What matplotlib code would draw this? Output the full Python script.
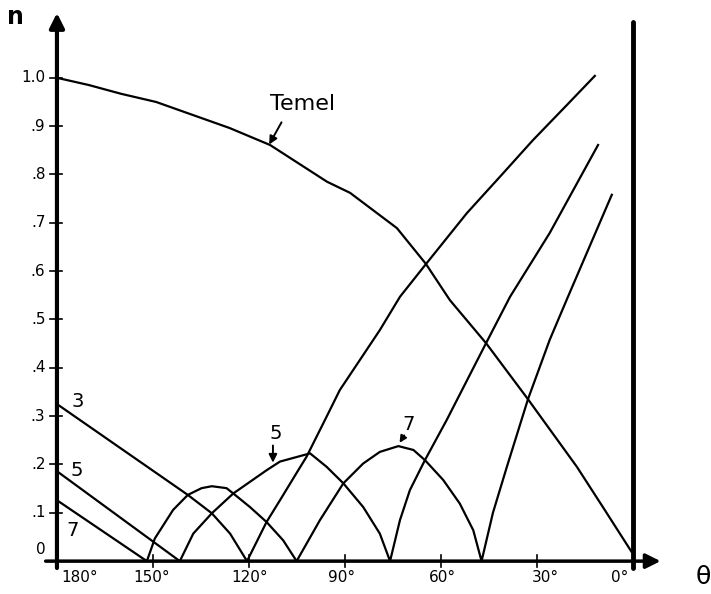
import matplotlib
matplotlib.use("Agg")
import matplotlib.pyplot as plt

# fundamental ("Temel")
temel_deg = [180, 170, 160, 149, 137.5, 126, 113.4, 95.6, 88.4, 73.75, 64.7, 57.2, 45.9, 32.8, 17.5, 9.4, 0.5]
temel_n = [1.0, 0.985, 0.967, 0.95, 0.923, 0.896, 0.861, 0.785, 0.762, 0.689, 0.615, 0.54, 0.451, 0.335, 0.195, 0.112, 0.02]

# 3rd harmonic: falls to zero near 120, then rises to 1.0
h3_deg = [180, 139.1, 131.6, 125.9, 120.6, 114.5, 110.3, 104.6, 102, 96.25, 91.6, 79.1, 72.8,
          64.4, 51.9, 41.6, 31.25, 20.6, 11.9]
h3_n = [0.325, 0.137, 0.099, 0.057, 0.0, 0.081, 0.126, 0.188, 0.216, 0.292, 0.354, 0.478, 0.547,
        0.617, 0.72, 0.795, 0.871, 0.944, 1.004]

# 5th harmonic: one lobe, then rising line
h5_deg = [180, 141.6, 137.4, 131.6, 124.9, 114.5, 110.3, 100.9, 95.7, 90.5, 84.3, 79.1, 75.9,
          72.8, 69.7, 65, 58.2, 45.9, 38.4, 26, 10.9]
h5_n = [0.186, 0.0, 0.057, 0.099, 0.14, 0.188, 0.206, 0.223, 0.195, 0.161, 0.112, 0.057, 0.0,
        0.085, 0.147, 0.209, 0.292, 0.451, 0.547, 0.679, 0.861]

# 7th harmonic: two lobes, then rising line
h7_deg = [180, 151.9, 149.4, 143.7, 139.1, 134.8, 131.6, 127, 124.9, 119.7, 114.5, 109.3, 105.1,
          97.8, 90.5, 84.3, 79.1, 73.3, 68.6, 65, 59.3, 54.1, 49.9, 47.3,
          43.75, 39.4, 32.8, 26, 20.3, 6.6]
h7_n = [0.126, 0.0, 0.047, 0.106, 0.137, 0.151, 0.155, 0.151, 0.14, 0.112, 0.081, 0.043, 0.0,
        0.085, 0.161, 0.202, 0.226, 0.238, 0.23, 0.209, 0.168, 0.119, 0.064, 0.0,
        0.1, 0.195, 0.335, 0.458, 0.547, 0.758]

y_ticks = [1.0, 0.9, 0.8, 0.7, 0.6, 0.5, 0.4, 0.3, 0.2, 0.1, 0.0]
y_labels = ["1.0", ".9", ".8", ".7", ".6", ".5", ".4", ".3", ".2", ".1", "0"]
x_ticks = [150, 120, 90, 60, 30]
x_label_pos = [172.8, 150.3, 119.7, 90.9, 59.4, 27.5, 4.1]
x_labels = ["180°", "150°", "120°", "90°", "60°", "30°", "0°"]

fig = plt.figure(figsize=(7.11, 5.94), dpi=100)
ax = fig.add_axes([0, 0, 1, 1])
ax.set_xlim(197.8, -24.4)
ax.set_ylim(-0.068, 1.161)
ax.axis("off")

lw = 1.6
ax.plot(temel_deg, temel_n, color="k", lw=lw)
ax.plot(h3_deg, h3_n, color="k", lw=lw)
ax.plot(h5_deg, h5_n, color="k", lw=lw)
ax.plot(h7_deg, h7_n, color="k", lw=lw)

# axes drawn by hand
ax.annotate("", xy=(180, 1.14), xytext=(180, -0.02),
            arrowprops=dict(arrowstyle="-|>", lw=3, color="k", mutation_scale=22))
ax.annotate("", xy=(-9.5, 0), xytext=(184.4, 0),
            arrowprops=dict(arrowstyle="-|>", lw=2.5, color="k", mutation_scale=22))
ax.plot([0, 0], [-0.015, 1.116], color="k", lw=3.5, solid_capstyle="round")

for t, lab in zip(y_ticks, y_labels):
    ax.plot([182.2, 178.4], [t, t], color="k", lw=1.2)
    ty = t + 0.025 if t == 0 else t
    ax.text(183.6, ty, lab, ha="right", va="center", fontsize=11)

for t in x_ticks:
    ax.plot([t, t], [-0.012, 0.012], color="k", lw=1.2)
for p, lab in zip(x_label_pos, x_labels):
    ax.text(p, -0.034, lab, ha="center", va="center", fontsize=11)

ax.text(193.1, 1.126, "n", ha="center", va="center", fontsize=17, fontweight="bold")
ax.text(-21.9, -0.033, "θ", ha="center", va="center", fontsize=18)

# curve labels
ax.text(173.5, 0.33, "3", ha="center", va="center", fontsize=14)
ax.text(173.8, 0.188, "5", ha="center", va="center", fontsize=14)
ax.text(175, 0.064, "7", ha="center", va="center", fontsize=14)
ax.text(103.1, 0.946, "Temel", ha="center", va="center", fontsize=16)
ax.annotate("", xy=(114.1, 0.857), xytext=(109.4, 0.913),
            arrowprops=dict(arrowstyle="-|>", lw=1.4, color="k", mutation_scale=12))
ax.text(111.6, 0.264, "5", ha="center", va="center", fontsize=14)
ax.annotate("", xy=(112.5, 0.198), xytext=(112.5, 0.245),
            arrowprops=dict(arrowstyle="-|>", lw=1.4, color="k", mutation_scale=12))
ax.text(70, 0.283, "7", ha="center", va="center", fontsize=14)
ax.annotate("", xy=(73.4, 0.24), xytext=(71, 0.265),
            arrowprops=dict(arrowstyle="-|>", lw=1.4, color="k", mutation_scale=10))

fig.savefig("out.png", dpi=100)
